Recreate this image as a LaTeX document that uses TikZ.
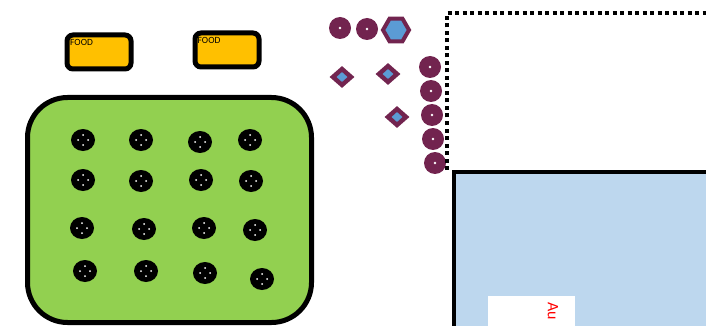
\documentclass[tikz,border=0pt]{standalone}
\usepackage{fontspec}
\setmainfont{Carlito}
\usetikzlibrary{shapes.geometric}

\definecolor{foodorange}{HTML}{FFC000}
\definecolor{hallgreen}{HTML}{92D050}
\definecolor{plum}{HTML}{72244F}
\definecolor{seatblue}{HTML}{5B9BD5}
\definecolor{stageblue}{HTML}{BDD7EE}

\tikzset{
  foodbox/.style={draw=black, line width=5pt, fill=foodorange, rounded corners=6pt, minimum width=64pt, minimum height=34pt, inner sep=0pt, outer sep=0pt},
  foodtext/.style={font=\fontsize{9.5}{10}\selectfont, inner sep=0pt, anchor=north west},
  hall/.style={draw=black, line width=5pt, fill=hallgreen, rounded corners=40pt, minimum width=284pt, minimum height=225pt, inner sep=0pt},
  tbl/.style={ellipse, fill=black, minimum width=24pt, minimum height=22pt, inner sep=0pt,
    path picture={
      \fill[white] ([yshift=5pt]path picture bounding box.center) circle (1pt);
      \fill[white] ([yshift=-5pt]path picture bounding box.center) circle (1pt);
      \fill[white] ([xshift=5pt]path picture bounding box.center) circle (1pt);
      \fill[white] ([xshift=-5pt]path picture bounding box.center) circle (1pt);}},
  seat/.style={circle, fill=plum, minimum size=22pt, inner sep=0pt,
    path picture={\fill[white] (path picture bounding box.center) circle (1.4pt);}},
  hexseat/.style={regular polygon, regular polygon sides=6, draw=plum, line width=4pt, fill=seatblue, minimum size=26pt, inner sep=0pt},
  diaout/.style={diamond, fill=plum, minimum width=25pt, minimum height=22pt, inner sep=0pt},
  diain/.style={diamond, fill=seatblue, minimum width=11pt, minimum height=10pt, inner sep=0pt}
}

\begin{document}
\begin{tikzpicture}[x=1pt, y=-1pt]
\useasboundingbox (0,0) rectangle (706,326);
\clip (0,0) rectangle (706,326);

\node[foodbox] (food1) at (99,52) {};
\node[foodbox] (food2) at (227,50) {};
\node[foodtext] at ([xshift=3pt, yshift=-4pt]food1.north west) {FOOD};
\node[foodtext] at ([xshift=2.5pt, yshift=-4pt]food2.north west) {FOOD};

\node[hall] (hall) at (169.5,210) {};

\node[tbl] (t11) at (83,140) {};
\node[tbl] (t12) at (141,140) {};
\node[tbl] (t13) at (200,142) {};
\node[tbl] (t14) at (250,140) {};
\node[tbl] (t21) at (83,180) {};
\node[tbl] (t22) at (141,181) {};
\node[tbl] (t23) at (201,180) {};
\node[tbl] (t24) at (251,181) {};
\node[tbl] (t31) at (82,228) {};
\node[tbl] (t32) at (144,229) {};
\node[tbl] (t33) at (204,228) {};
\node[tbl] (t34) at (255,230) {};
\node[tbl] (t41) at (85,271) {};
\node[tbl] (t42) at (146,271) {};
\node[tbl] (t43) at (205,273) {};
\node[tbl] (t44) at (262,279) {};

\node[seat] (s1) at (340,28) {};
\node[seat] (s2) at (367,29) {};
\node[hexseat] (h1) at (396,30) {};

\node[diaout] (d1) at (342,77) {};
\node[diain] at (d1) {};
\node[diaout] (d2) at (388,74) {};
\node[diain] at (d2) {};
\node[diaout] (d3) at (397,117) {};
\node[diain] at (d3) {};

\node[seat] (s3) at (430,67) {};
\node[seat] (s4) at (431,91) {};
\node[seat] (s5) at (432,115) {};
\node[seat] (s6) at (433,139) {};
\node[seat] (s7) at (435,163) {};

\draw[line width=4pt, dash pattern=on 4pt off 3.5pt] (447,170) -- (447,13) -- (720,13);

\draw[line width=4pt, fill=stageblue] (454,172) rectangle (730,350);
\fill[white] (488,296) rectangle (575,330);
\node[rotate=-90, anchor=west, text=red, font=\fontsize{16}{18}\selectfont, inner sep=0pt] (au) at (553,302) {Au};
\end{tikzpicture}
\end{document}
